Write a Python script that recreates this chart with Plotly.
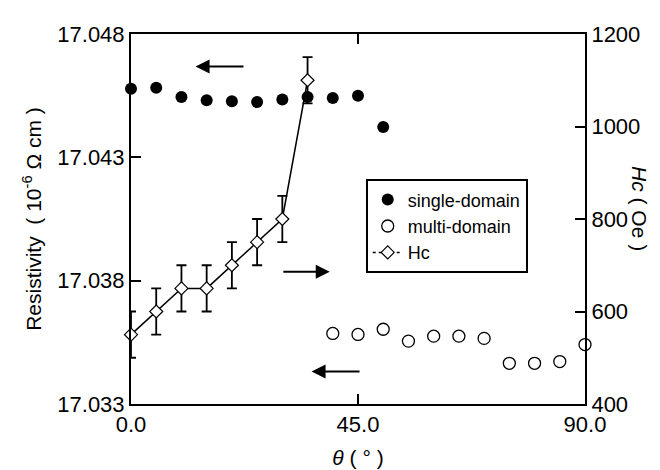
import plotly.graph_objects as go

# ---- data ----
theta_single = [0, 5, 10, 15, 20, 25, 30, 35, 40, 45, 50]
rho_single = [17.04578, 17.04582, 17.04545, 17.04531, 17.04527, 17.04524,
              17.04534, 17.04545, 17.04541, 17.04550, 17.04423]

theta_multi = [40, 45, 50, 55, 60, 65, 70, 75, 80, 85, 90]
rho_multi = [17.03586, 17.03582, 17.03603, 17.03555, 17.03575, 17.03575,
             17.03566, 17.03465, 17.03465, 17.03472, 17.03541]

theta_hc = [0, 5, 10, 15, 20, 25, 30, 35]
hc = [550, 600, 650, 650, 700, 750, 800, 1100]
hc_err = [50, 50, 50, 50, 50, 50, 50, 50]

x_ticks = [0, 45, 90]
x_ticktext = ["0.0", "45.0", "90.0"]
y_ticks = [17.033, 17.038, 17.043, 17.048]
y_ticktext = ["17.033", "17.038", "17.043", "17.048"]
y2_ticks = [400, 600, 800, 1000, 1200]

FONT = "Liberation Sans"
TICK_SIZE = 22
TITLE_SIZE = 21

fig = go.Figure()

fig.add_trace(go.Scatter(
    x=theta_single, y=rho_single, mode="markers", name="single-domain",
    marker=dict(symbol="circle", size=12, color="black"),
    cliponaxis=False))

fig.add_trace(go.Scatter(
    x=theta_multi, y=rho_multi, mode="markers", name="multi-domain",
    marker=dict(symbol="circle-open", size=12, color="black",
                line=dict(width=1.3, color="black")),
    cliponaxis=False))

fig.add_trace(go.Scatter(
    x=theta_hc, y=hc, mode="lines+markers", name="Hc", yaxis="y2",
    showlegend=False,
    line=dict(color="black", width=1.5),
    marker=dict(symbol="diamond", size=10, color="white",
                line=dict(width=1.2, color="black")),
    error_y=dict(type="data", array=hc_err, visible=True, color="black",
                 thickness=1.8, width=5),
    cliponaxis=False))

# legend entry for Hc (dotted line with diamond as in the reference legend)
fig.add_trace(go.Scatter(
    x=[None], y=[None], mode="lines+markers", name="Hc", yaxis="y2",
    line=dict(color="black", width=1.5, dash="dot"),
    marker=dict(symbol="diamond", size=10, color="white",
                line=dict(width=1.2, color="black"))))

axis_common = dict(showline=True, linecolor="black", linewidth=2,
                   ticks="inside", ticklen=10, tickwidth=2, tickcolor="black",
                   showgrid=False, zeroline=False,
                   tickfont=dict(family=FONT, size=TICK_SIZE, color="black"))

fig.update_layout(
    width=660, height=470,
    margin=dict(l=123, r=83, t=26, b=67),
    paper_bgcolor="white", plot_bgcolor="white",
    font=dict(family=FONT, size=TICK_SIZE, color="black"),
    xaxis=dict(range=[0, 90], tickvals=x_ticks, ticktext=x_ticktext,
               mirror="ticks",
               title=dict(text="<i>θ</i> ( ° )", standoff=14,
                          font=dict(family=FONT, size=TITLE_SIZE)),
               **axis_common),
    yaxis=dict(range=[17.033, 17.048], tickvals=y_ticks, ticktext=y_ticktext,
               title=dict(text="Resistivity  ( 10<sup>-6</sup> Ω cm )",
                          standoff=10, font=dict(family=FONT, size=TITLE_SIZE)),
               **axis_common),
    yaxis2=dict(range=[400, 1200], tickvals=y2_ticks, overlaying="y",
                side="right", **axis_common),
    legend=dict(x=0.517, y=0.607, xanchor="left", yanchor="top",
                bgcolor="white", bordercolor="black", borderwidth=2,
                font=dict(family=FONT, size=18, color="black"),
                tracegroupgap=0),
    showlegend=True,
)

# right axis title reading top-to-bottom
fig.add_annotation(text="<i>Hc</i> ( Oe )", xref="paper", yref="paper",
                   x=1.150, y=0.528, showarrow=False, textangle=90,
                   font=dict(family=FONT, size=TITLE_SIZE, color="black"))

# arrows indicating which axis each data set belongs to
arrows = [  # (head_x, head_y, tail_x, tail_y)
    (12.8, 17.04668, 22.6, 17.04668),
    (39.4, 17.03836, 29.9, 17.03836),
    (35.8, 17.03432, 45.6, 17.03432),
]
for hx, hy, tx, ty in arrows:
    fig.add_annotation(x=hx, y=hy, ax=tx, ay=ty, xref="x", yref="y",
                       axref="x", ayref="y", showarrow=True, arrowhead=2,
                       arrowsize=1.4, arrowwidth=2, arrowcolor="black",
                       text="")

fig.write_html("out.html")
